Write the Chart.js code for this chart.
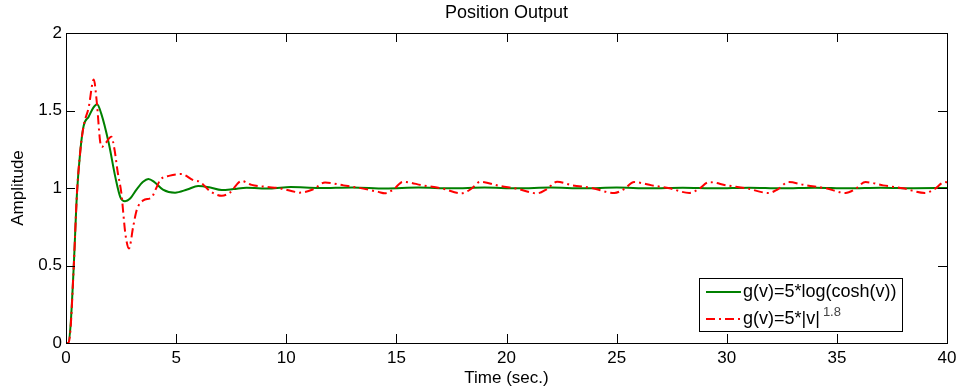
<!DOCTYPE html>
<html>
<head>
<meta charset="utf-8">
<script src="https://cdn.jsdelivr.net/npm/chart.js@4/dist/chart.umd.min.js"></script>
<style>
  html, body { margin: 0; padding: 0; background: #fff; }
  #wrap { width: 961px; height: 392px; }
</style>
</head>
<body>
<div id="wrap"><canvas id="pos-chart" width="961" height="392"></canvas></div>
<script>
// Step response, g(v)=5*log(cosh(v))
const timeLogCosh = [0, 0.1, 0.2, 0.35, 0.5, 0.65, 0.8, 1.03, 1.25, 1.41, 1.6, 1.94, 2.24, 2.47, 2.68, 2.9,
    3.2, 3.5, 3.74, 4.0, 4.4, 4.95, 5.5, 6.0, 6.5, 7.07, 7.6, 8.2, 9.26, 10.2, 11.5, 13, 14.5, 16, 17.5,
    19, 20.5, 22, 23.5, 25, 26.5, 28, 29.5, 31, 32.5, 34, 35.5, 37, 38.5, 40];
const ampLogCosh = [0, 0, 0.1, 0.49, 0.97, 1.24, 1.40, 1.46, 1.52, 1.54, 1.48, 1.29, 1.07, 0.94, 0.915, 0.93,
    0.99, 1.04, 1.058, 1.04, 0.99, 0.97, 0.99, 1.013, 1.005, 0.987, 0.993, 1.002, 0.996, 1.006, 1.0, 1.004,
    0.997, 1.003, 0.998, 1.003, 0.998, 1.003, 0.998, 1.003, 0.998, 1.002, 0.998, 1.002, 0.998, 1.002, 0.998,
    1.002, 0.998, 1.0];

// Step response, g(v)=5*|v|^1.8
const timePow = [0, 0.1, 0.2, 0.35, 0.5, 0.65, 0.8, 1.03, 1.26, 1.4, 1.55, 1.63, 1.8, 2.06, 2.2, 2.35, 2.51,
    2.7, 2.86, 3.05, 3.21, 3.51, 3.89, 4.1, 4.27, 4.72, 5.25, 5.78, 6.08, 6.54, 7.07, 7.44, 7.97, 8.43, 9.1,
    9.71, 10.4, 10.6, 11.2, 11.76, 12.6, 13.5, 14.18, 14.48, 14.86, 15.3, 16.2, 17.1, 17.96, 18.4, 18.8,
    19.7, 20.46, 21.4, 21.8, 22.3, 23.0, 23.8, 24.9, 25.3, 25.8, 26.6, 27.4, 28.3, 28.7, 29.2, 30.0, 30.9,
    31.9, 32.3, 32.8, 33.6, 34.5, 35.4, 35.8, 36.3, 37.1, 38.0, 39.0, 39.4, 39.9, 40];
const ampPow = [0, 0, 0.08, 0.49, 0.97, 1.24, 1.40, 1.52, 1.70, 1.55, 1.30, 1.265, 1.29, 1.33, 1.25, 1.10, 0.97,
    0.70, 0.61, 0.75, 0.857, 0.92, 0.94, 1.0, 1.05, 1.08, 1.09, 1.05, 1.04, 0.98, 0.95, 0.97, 1.045, 1.02, 1.007,
    0.998, 0.975, 0.97, 0.99, 1.035, 1.017, 0.996, 0.975, 0.966, 0.99, 1.04, 1.017, 0.996, 0.966, 0.995, 1.04,
    1.013, 0.996, 0.966, 0.99, 1.04, 1.017, 1.002, 0.968, 0.99, 1.038, 1.017, 0.998, 0.968, 0.99, 1.038, 1.017,
    0.998, 0.968, 0.99, 1.038, 1.017, 0.998, 0.968, 0.99, 1.038, 1.017, 0.998, 0.968, 0.99, 1.038, 1.037];

const seriesNames = ['g(v)=5*log(cosh(v))', 'g(v)=5*|v|'];
const powExponent = '1.8';
const xTicks = [0, 5, 10, 15, 20, 25, 30, 35, 40];
const yTicks = [0, 0.5, 1, 1.5, 2];

const GREEN = '#008000';
const RED = '#ff0000';
const DASH_DOT = [9, 4, 2, 4];
const FONT = '"Liberation Sans", Arial, sans-serif';

function toPoints(xs, ys) {
    return xs.map((x, i) => ({ x: x, y: ys[i] }));
}

// Box around the axes with inward tick marks on all four sides, plus title
const frameTicks = {
    id: 'frameTicks',
    afterDatasetsDraw(chart) {
        const ctx = chart.ctx;
        const { left, right, top, bottom } = chart.chartArea;
        const xs = chart.scales.x, ys = chart.scales.y;
        const len = 9;
        ctx.save();
        ctx.strokeStyle = '#000';
        ctx.lineWidth = 1;
        ctx.beginPath();
        xTicks.forEach(v => {
            const px = Math.round(xs.getPixelForValue(v)) + 0.5;
            ctx.moveTo(px, bottom); ctx.lineTo(px, bottom - len);
            ctx.moveTo(px, top); ctx.lineTo(px, top + len);
        });
        yTicks.forEach(v => {
            const py = Math.round(ys.getPixelForValue(v)) + 0.5;
            ctx.moveTo(left, py); ctx.lineTo(left + len, py);
            ctx.moveTo(right, py); ctx.lineTo(right - len, py);
        });
        ctx.stroke();
        ctx.strokeRect(Math.round(left) + 0.5, Math.round(top) + 0.5,
            Math.round(right - left), Math.round(bottom - top));

        ctx.fillStyle = '#000';
        ctx.font = '18px ' + FONT;
        ctx.textAlign = 'center';
        ctx.textBaseline = 'middle';
        ctx.fillText('Position Output', (left + right) / 2, 13);
        ctx.restore();
    }
};

// Legend with a superscript exponent on the second entry
const boxLegend = {
    id: 'boxLegend',
    afterDraw(chart) {
        const ctx = chart.ctx;
        const bx = 699.5, by = 278.5, bw = 203, bh = 53;
        ctx.save();
        ctx.fillStyle = '#fff';
        ctx.fillRect(bx, by, bw, bh);
        ctx.strokeStyle = '#000';
        ctx.lineWidth = 1;
        ctx.strokeRect(bx, by, bw, bh);

        const rows = [
            { y: 292, color: GREEN, dash: [] },
            { y: 319, color: RED, dash: DASH_DOT }
        ];
        ctx.font = '18px ' + FONT;
        ctx.textAlign = 'left';
        ctx.textBaseline = 'middle';
        rows.forEach((r, i) => {
            ctx.strokeStyle = r.color;
            ctx.lineWidth = 2;
            ctx.setLineDash(r.dash);
            ctx.beginPath();
            ctx.moveTo(706, r.y);
            ctx.lineTo(741, r.y);
            ctx.stroke();
            ctx.setLineDash([]);
            ctx.fillStyle = '#000';
            ctx.fillText(seriesNames[i], 743, r.y);
        });
        const w = ctx.measureText(seriesNames[1]).width;
        ctx.font = '13px ' + FONT;
        ctx.fillStyle = '#444';
        ctx.fillText(powExponent, 743 + w + 3, 312);
        ctx.restore();
    }
};

function drawPositionChart() {
    const ctx = document.getElementById('pos-chart').getContext('2d');
    new Chart(ctx, {
        type: 'line',
        data: {
            datasets: [
                {
                    label: seriesNames[0],
                    data: toPoints(timeLogCosh, ampLogCosh),
                    borderColor: GREEN,
                    borderWidth: 2,
                    pointRadius: 0,
                    cubicInterpolationMode: 'monotone',
                    order: 1
                },
                {
                    label: seriesNames[1],
                    data: toPoints(timePow, ampPow),
                    borderColor: RED,
                    borderWidth: 2,
                    borderDash: DASH_DOT,
                    pointRadius: 0,
                    cubicInterpolationMode: 'monotone',
                    order: 0
                }
            ]
        },
        options: {
            responsive: false,
            animation: false,
            devicePixelRatio: 1,
            layout: { padding: { top: 33, right: 14, left: 0, bottom: 0 } },
            plugins: {
                legend: { display: false },
                tooltip: { enabled: false }
            },
            scales: {
                x: {
                    type: 'linear',
                    min: 0,
                    max: 40,
                    grid: { display: false },
                    border: { display: false },
                    afterBuildTicks: s => { s.ticks = xTicks.map(v => ({ value: v })); },
                    ticks: {
                        color: '#000', padding: -3, maxRotation: 0,
                        font: { size: 17, family: FONT },
                        callback: v => String(v)
                    },
                    title: {
                        display: true, text: 'Time (sec.)', color: '#000',
                        font: { size: 17, family: FONT }, padding: { top: 0, bottom: 3 }
                    },
                    afterFit: s => { s.height = 49; }
                },
                y: {
                    min: 0,
                    max: 2,
                    grid: { display: false },
                    border: { display: false },
                    afterBuildTicks: s => { s.ticks = yTicks.map(v => ({ value: v })); },
                    ticks: {
                        color: '#000', padding: -4,
                        font: { size: 17, family: FONT },
                        callback: v => String(v)
                    },
                    title: {
                        display: true, text: 'Amplitude', color: '#000',
                        font: { size: 17, family: FONT }, padding: { top: 8, bottom: 0 }
                    },
                    afterFit: s => { s.width = 66; }
                }
            }
        },
        plugins: [frameTicks, boxLegend]
    });
}

drawPositionChart();
</script>
</body>
</html>
